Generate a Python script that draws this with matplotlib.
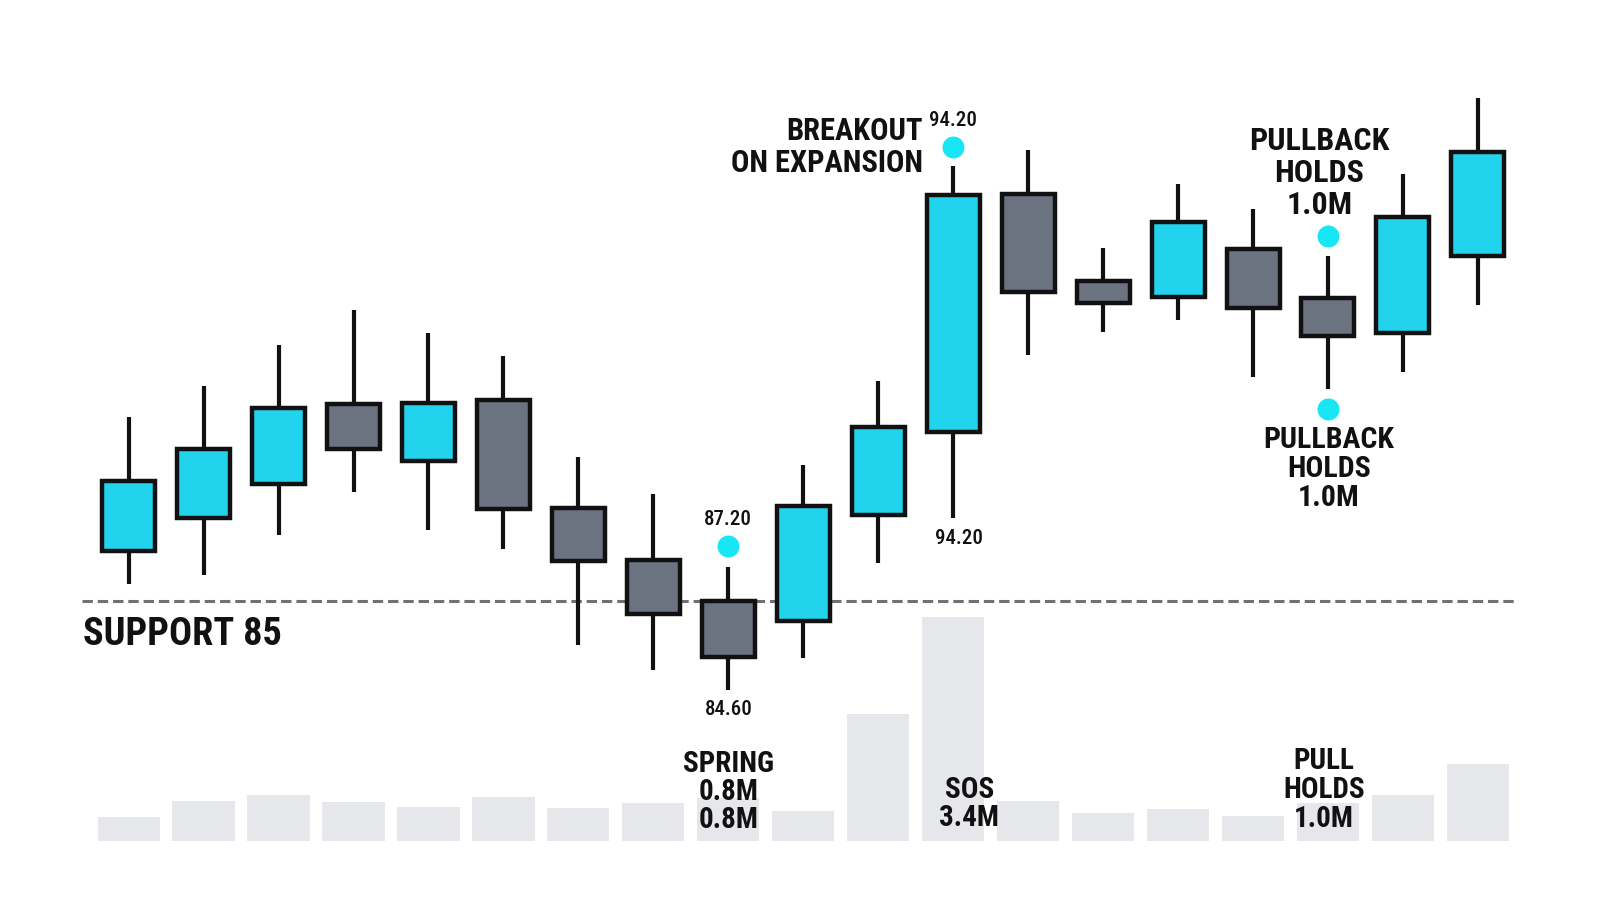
import matplotlib.pyplot as plt
from matplotlib.patches import Rectangle

# candles (price)
opens  = [86.05, 86.74, 87.46, 89.16, 87.96, 89.25, 86.96, 85.86, 84.99, 84.56,
          86.81, 88.56, 93.60, 91.77, 91.43, 92.44, 91.41, 90.66, 92.30]
highs  = [88.89, 89.54, 90.41, 91.15, 90.66, 90.18, 88.05, 87.25, 85.72, 87.87,
          89.65, 94.20, 94.54, 92.47, 93.81, 93.30, 92.30, 94.02, 95.63]
lows   = [85.35, 85.54, 86.39, 87.29, 86.50, 86.09, 84.06, 83.53, 83.11, 83.78,
          85.80, 86.76, 90.21, 90.69, 90.93, 89.73, 89.47, 89.85, 91.26]
closes = [87.53, 88.20, 89.07, 88.22, 89.18, 86.93, 85.83, 84.72, 83.80, 87.00,
          88.67, 93.58, 91.53, 91.29, 93.01, 91.19, 90.60, 93.13, 94.49]
volumes = [0.36, 0.60, 0.70, 0.59, 0.52, 0.67, 0.50, 0.57, 0.65, 0.46,
           1.92, 3.40, 0.60, 0.43, 0.49, 0.38, 0.58, 0.70, 1.16]

support = 85
spring_idx, breakout_idx, pullback_idx = 8, 11, 16
spring_dot = 86.16
breakout_dot = 94.61
pullback_dots = [92.72, 89.06]

CYAN = "#22D3EE"
GRAY = "#6B7280"
DOT = "#19E6F4"
EDGE = "#111111"
VOLC = "#E5E7EB"
FONT = ["Roboto Condensed", "Open Sans Condensed", "DejaVu Sans"]

XLIM = (-1.716, 19.629)

fig = plt.figure(figsize=(16, 9.14), dpi=100)
fig.patch.set_facecolor("white")

# volume panel underneath
axv = fig.add_axes([0, 0, 1, 1])
axv.set_xlim(*XLIM)
axv.set_ylim(-1.106, 12.742)
axv.axis("off")
axv.bar(range(len(volumes)), volumes, width=0.83, color=VOLC, zorder=1)

# price panel on top
ax = fig.add_axes([0, 0, 1, 1])
ax.set_xlim(*XLIM)
ax.set_ylim(78.369, 97.713)
ax.axis("off")
ax.patch.set_alpha(0)

ax.plot([-0.626, 18.495], [support, support], color="#6E7178", lw=2.2,
        dashes=(3.4, 1.6), zorder=1)

w = 0.707
for i in range(len(opens)):
    o, h, l, c = opens[i], highs[i], lows[i], closes[i]
    up = c >= o
    ax.plot([i, i], [l, h], color=EDGE, lw=3.0, zorder=2, solid_capstyle="butt")
    ax.add_patch(Rectangle((i - w / 2, min(o, c)), w, abs(c - o),
                           facecolor=CYAN if up else GRAY, edgecolor=EDGE,
                           lw=3.2, zorder=3))

# dots
ax.scatter([spring_idx], [spring_dot], s=250, color=DOT, zorder=4, lw=0)
ax.scatter([breakout_idx], [breakout_dot], s=250, color=DOT, zorder=4, lw=0)
ax.scatter([pullback_idx, pullback_idx], pullback_dots, s=250, color=DOT, zorder=4, lw=0)

# labels
ax.text(-0.612, support - 0.72, "SUPPORT 85", family=FONT, fontweight="bold",
        fontsize=27.5, ha="left", va="center", color="#111")
ax.text(breakout_idx - 0.408, breakout_dot, "BREAKOUT\nON EXPANSION", family=FONT,
        fontweight="bold", fontsize=22, ha="right", va="center",
        multialignment="right", linespacing=1.08, color="#111")
ax.text(breakout_idx, highs[breakout_idx] + 0.97, "94.20", family=FONT,
        fontsize=15, fontweight="medium", ha="center", va="center", color="#111")
ax.text(breakout_idx + 0.076, lows[breakout_idx] - 0.44, "94.20", family=FONT,
        fontsize=15, fontweight="medium", ha="center", va="center", color="#111")
ax.text(spring_idx, spring_dot + 0.56, "87.20", family=FONT,
        fontsize=15, fontweight="medium", ha="center", va="center", color="#111")
ax.text(spring_idx, lows[spring_idx] - 0.41, "84.60", family=FONT,
        fontsize=15, fontweight="medium", ha="center", va="center", color="#111")
ax.text(pullback_idx - 0.117, pullback_dots[0] + 1.33, "PULLBACK\nHOLDS\n1.0M",
        family=FONT, fontweight="bold", fontsize=23, ha="center", va="center",
        linespacing=1.08, color="#111")
ax.text(pullback_idx + 0.013, pullback_dots[1] - 1.27, "PULLBACK\nHOLDS\n1.0M",
        family=FONT, fontweight="bold", fontsize=21.5, ha="center", va="center",
        linespacing=1.03, color="#111")

axv.text(spring_idx, 0.742, "SPRING\n0.8M\n0.8M", family=FONT, fontweight="bold",
         fontsize=21, ha="center", va="center", linespacing=1.01, color="#111", zorder=5)
axv.text(breakout_idx + 0.213, 0.56, "SOS\n3.4M", family=FONT, fontweight="bold",
         fontsize=21, ha="center", va="center", linespacing=1.03, color="#111", zorder=5)
axv.text(pullback_idx - 0.053, 0.773, "PULL\nHOLDS\n1.0M", family=FONT, fontweight="bold",
         fontsize=21, ha="center", va="center", linespacing=1.03, color="#111", zorder=5)

plt.savefig("out.png", dpi=100)
plt.close()
